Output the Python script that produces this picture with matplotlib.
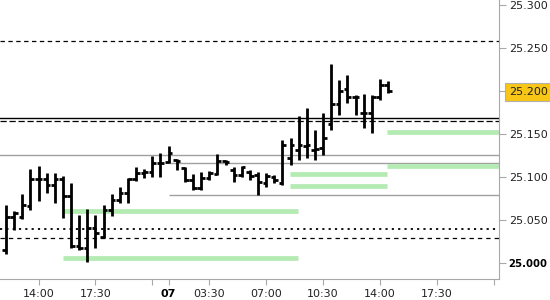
import matplotlib.pyplot as plt

# 30 minute OHLC bars, oldest first
opens = [25.015, 25.053, 25.053, 25.066, 25.098, 25.098, 25.091, 25.098, 25.078, 25.020,
         25.017, 25.041, 25.030, 25.062, 25.073, 25.081, 25.098, 25.105, 25.106, 25.116,
         25.117, 25.120, 25.110, 25.097, 25.087, 25.099, 25.103, 25.119, 25.108, 25.102,
         25.106, 25.102, 25.093, 25.100, 25.093, 25.122, 25.131, 25.136, 25.131, 25.134,
         25.162, 25.185, 25.202, 25.193, 25.174, 25.174, 25.193, 25.207]
highs = [25.067, 25.060, 25.080, 25.109, 25.113, 25.105, 25.105, 25.101, 25.093, 25.056,
         25.063, 25.056, 25.067, 25.080, 25.088, 25.099, 25.112, 25.109, 25.124, 25.128,
         25.136, 25.121, 25.112, 25.103, 25.106, 25.107, 25.127, 25.120, 25.112, 25.113,
         25.108, 25.106, 25.105, 25.102, 25.143, 25.145, 25.171, 25.180, 25.155, 25.174,
         25.231, 25.213, 25.219, 25.195, 25.197, 25.195, 25.214, 25.212]
lows = [25.010, 25.038, 25.051, 25.062, 25.072, 25.081, 25.070, 25.052, 25.017, 25.015,
        25.001, 25.017, 25.029, 25.055, 25.070, 25.070, 25.095, 25.099, 25.100, 25.100,
        25.116, 25.108, 25.094, 25.085, 25.085, 25.097, 25.102, 25.114, 25.094, 25.100,
        25.097, 25.079, 25.088, 25.093, 25.091, 25.114, 25.120, 25.122, 25.120, 25.126,
        25.155, 25.172, 25.186, 25.172, 25.157, 25.151, 25.190, 25.198]
closes = [25.053, 25.058, 25.067, 25.098, 25.098, 25.091, 25.098, 25.078, 25.020, 25.017,
          25.041, 25.035, 25.062, 25.073, 25.081, 25.098, 25.105, 25.106, 25.116, 25.116,
          25.128, 25.119, 25.097, 25.087, 25.099, 25.105, 25.119, 25.117, 25.102, 25.112,
          25.101, 25.094, 25.101, 25.097, 25.137, 25.137, 25.137, 25.137, 25.133, 25.145,
          25.185, 25.200, 25.193, 25.193, 25.174, 25.193, 25.207, 25.200]

# time axis ticks (bar index)
tick_pos = [4, 11, 18, 20, 25, 32, 39, 46, 53, 60]
tick_labels = ['14:00', '17:30', '', '07', '03:30', '07:00', '10:30', '14:00', '17:30', '']

# horizontal levels
level_dash_top = 25.258
level_solid = 25.169
level_dash_mid = 25.165
level_dotted = 25.040
level_dash_low = 25.029
gray_levels = [25.126, 25.116, 25.079]
gray_start = [-1, 20.1, 20.1]

# green zones
zone_levels = [25.060, 25.006, 25.104, 25.090, 25.113, 25.152]
zone_start = [7.0, 7.0, 34.9, 34.9, 46.9, 46.9]
zone_end = [35.9, 35.9, 46.9, 46.9, 61, 61]

last_price = closes[-1]

fig = plt.figure(figsize=(5.5, 3), dpi=100)
ax = fig.add_axes([0, 0.07, 0.9073, 0.93])

xmin, xmax = -0.74, 60.64
ax.set_xlim(xmin, xmax)
ax.set_ylim(24.9814, 25.3058)

# reference lines
ax.axhline(level_dash_top, color='black', lw=0.9, dashes=(3.5, 2.8))
ax.axhline(level_solid, color='black', lw=1.0)
ax.axhline(level_dash_mid, color='black', lw=0.9, dashes=(5, 2.2))
ax.axhline(level_dotted, color='black', lw=1.3, dashes=(1.2, 2.3))
ax.axhline(level_dash_low, color='black', lw=0.9, dashes=(3.5, 3.2))
for lv, st in zip(gray_levels, gray_start):
    ax.hlines(lv, st, xmax + 1, color='#a0a0a0', lw=1.0)

for lv, s, e in zip(zone_levels, zone_start, zone_end):
    ax.hlines(lv, s, e, color='#b3ebb3', lw=3.4)

# ohlc bars
idx = range(len(opens))
ax.vlines(idx, lows, highs, color='black', lw=2.0, capstyle='butt')
ax.hlines(opens, [i - 0.45 for i in idx], list(idx), color='black', lw=2.0)
ax.hlines(closes, list(idx), [i + 0.45 for i in idx], color='black', lw=2.0)

# axes styling
for s in ['top', 'left']:
    ax.spines[s].set_visible(False)
ax.spines['right'].set_color('#a8a8a8')
ax.spines['bottom'].set_color('#a8a8a8')
ax.yaxis.tick_right()
ax.set_yticks([25.0, 25.05, 25.1, 25.15, 25.2, 25.25, 25.3])
ax.set_yticklabels(['%.3f' % v for v in ax.get_yticks()])
ax.set_xticks(tick_pos)
ax.set_xticklabels(tick_labels)
ax.tick_params(axis='y', colors='#a8a8a8', labelcolor='#222222', length=5,
               labelsize=8, pad=2)
ax.tick_params(axis='x', colors='#a8a8a8', labelcolor='#222222', length=4,
               labelsize=8, pad=3)
for lab in ax.get_xticklabels():
    if lab.get_text() == '07':
        lab.set_fontweight('bold')
        lab.set_color('black')
for lab in ax.get_yticklabels():
    if lab.get_text() == '25.000':
        lab.set_fontweight('bold')
        lab.set_fontsize(7.3)
        lab.set_color('black')
    if lab.get_text() == '%.3f' % last_price:
        lab.set_bbox(dict(boxstyle='square,pad=0.35', facecolor='#f8c614',
                          edgecolor='#b0b0b0', lw=0.8))

fig.savefig('out.png', dpi=100)
